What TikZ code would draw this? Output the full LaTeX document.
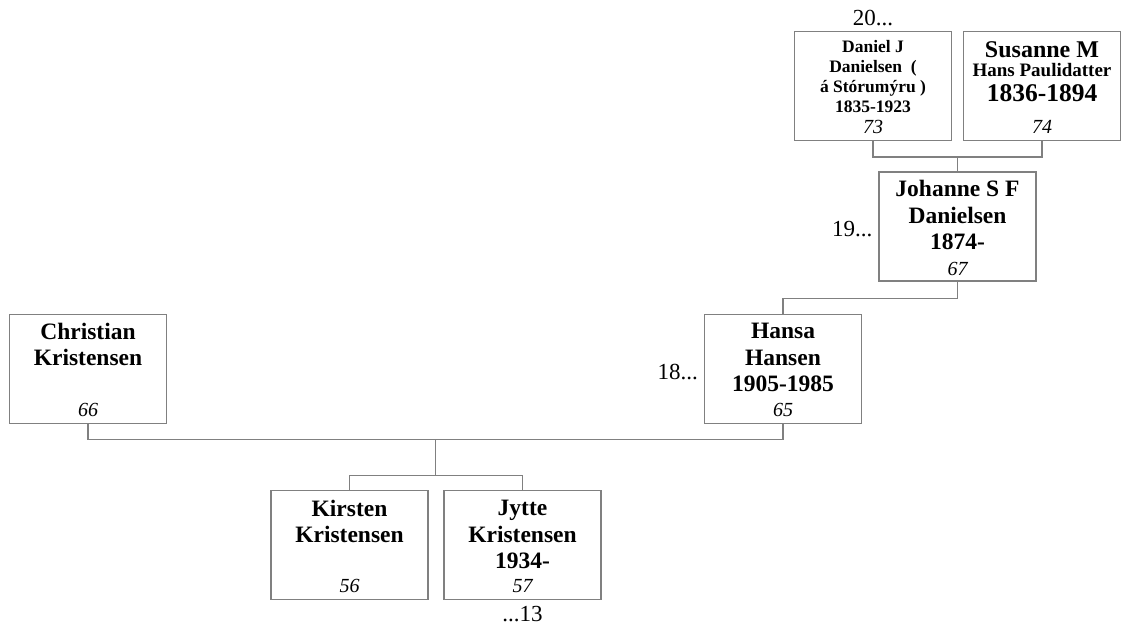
\documentclass[tikz,border=0pt]{standalone}
\usepackage{fontspec}
\setmainfont{Liberation Serif}
\usetikzlibrary{positioning,calc}

\tikzset{
  person/.style={draw=black!50, line width=1.1pt, minimum width=157pt, minimum height=109pt, inner sep=0pt},
  link/.style={draw=black!50, line width=1.1pt},
  nm/.style={font=\bfseries\fontsize{23.5}{26.5}\selectfont, align=center, inner sep=0pt},
  num/.style={font=\itshape\fontsize{20}{22}\selectfont, inner sep=0pt},
  gen/.style={font=\fontsize{23}{25}\selectfont, inner sep=0pt}
}

\begin{document}
\begin{tikzpicture}[x=1pt,y=-1pt]

        \useasboundingbox (0,0) rectangle (1126,628);

        %Daniel
        \node [person] (daniel) at (873,86) {};
        \node [nm, font=\bfseries\fontsize{17.5}{20}\selectfont, below=9pt of daniel.north] (danielname) {Daniel J\\Danielsen \ (\\á Stórumýru )\\1835-1923};
        \node [num, above=7pt of daniel.south] (danielnum) {73};
        \node [gen, above=5pt of daniel.north] (gen20) {20...};

        %Susanne
        \node [person] (susanne) at (1042,86) {};
        \node [nm, font=\bfseries\fontsize{19}{21}\selectfont, below=10pt of susanne.north] (susannename) {{\fontsize{24}{26}\selectfont Susanne M}\\[-2pt]Hans Paulidatter\\[4pt]{\fontsize{25.5}{28}\selectfont 1836-1894}};
        \node [num, above=7pt of susanne.south] (susannenum) {74};

        %Johanne
        \node [person] (johanne) at (957.5,226.5) {};
        \node [nm, below=9pt of johanne.north] (johannename) {Johanne S F\\Danielsen\\1874-};
        \node [num, above=6pt of johanne.south] (johannenum) {67};
        \node [gen, left=6pt of johanne.west, yshift=-3pt] (gen19) {19...};

        %Christian
        \node [person] (christian) at (88,369) {};
        \node [nm, below=9pt of christian.north] (christianname) {Christian\\Kristensen};
        \node [num, above=7pt of christian.south] (christiannum) {66};

        %Hansa
        \node [person] (hansa) at (783,369) {};
        \node [nm, below=9pt of hansa.north] (hansaname) {Hansa\\Hansen\\1905-1985};
        \node [num, above=7pt of hansa.south] (hansanum) {65};
        \node [gen, left=6pt of hansa.west, yshift=-3pt] (gen18) {18...};

        %Kirsten
        \node [person] (kirsten) at (349.5,545) {};
        \node [nm, below=10pt of kirsten.north] (kirstenname) {Kirsten\\Kristensen};
        \node [num, above=7pt of kirsten.south] (kirstennum) {56};

        %Jytte
        \node [person] (jytte) at (522.5,545) {};
        \node [nm, below=10pt of jytte.north] (jyttename) {Jytte\\Kristensen\\1934-};
        \node [num, above=7pt of jytte.south] (jyttenum) {57};
        \node [gen, below=6pt of jytte.south] (gen13) {...13};

        %Lines
        \coordinate (dsbar) at ($(daniel.south)!0.5!(susanne.south)+(0,16)$);
        \draw [link] (daniel.south) |- (dsbar) -| (susanne.south);
        \draw [link] (dsbar) -- (johanne.north);
        \draw [link] (johanne.south) -- ++(0,17) -| (hansa.north);
        \coordinate (chbar) at ($(christian.south)!0.5!(hansa.south)+(0,15)$);
        \draw [link] (christian.south) |- (chbar) -| (hansa.south);
        \coordinate (kidsbar) at ($(chbar)+(0,36)$);
        \draw [link] (chbar) -- (kidsbar);
        \draw [link] (kirsten.north) |- (kidsbar) -| (jytte.north);

\end{tikzpicture}
\end{document}
